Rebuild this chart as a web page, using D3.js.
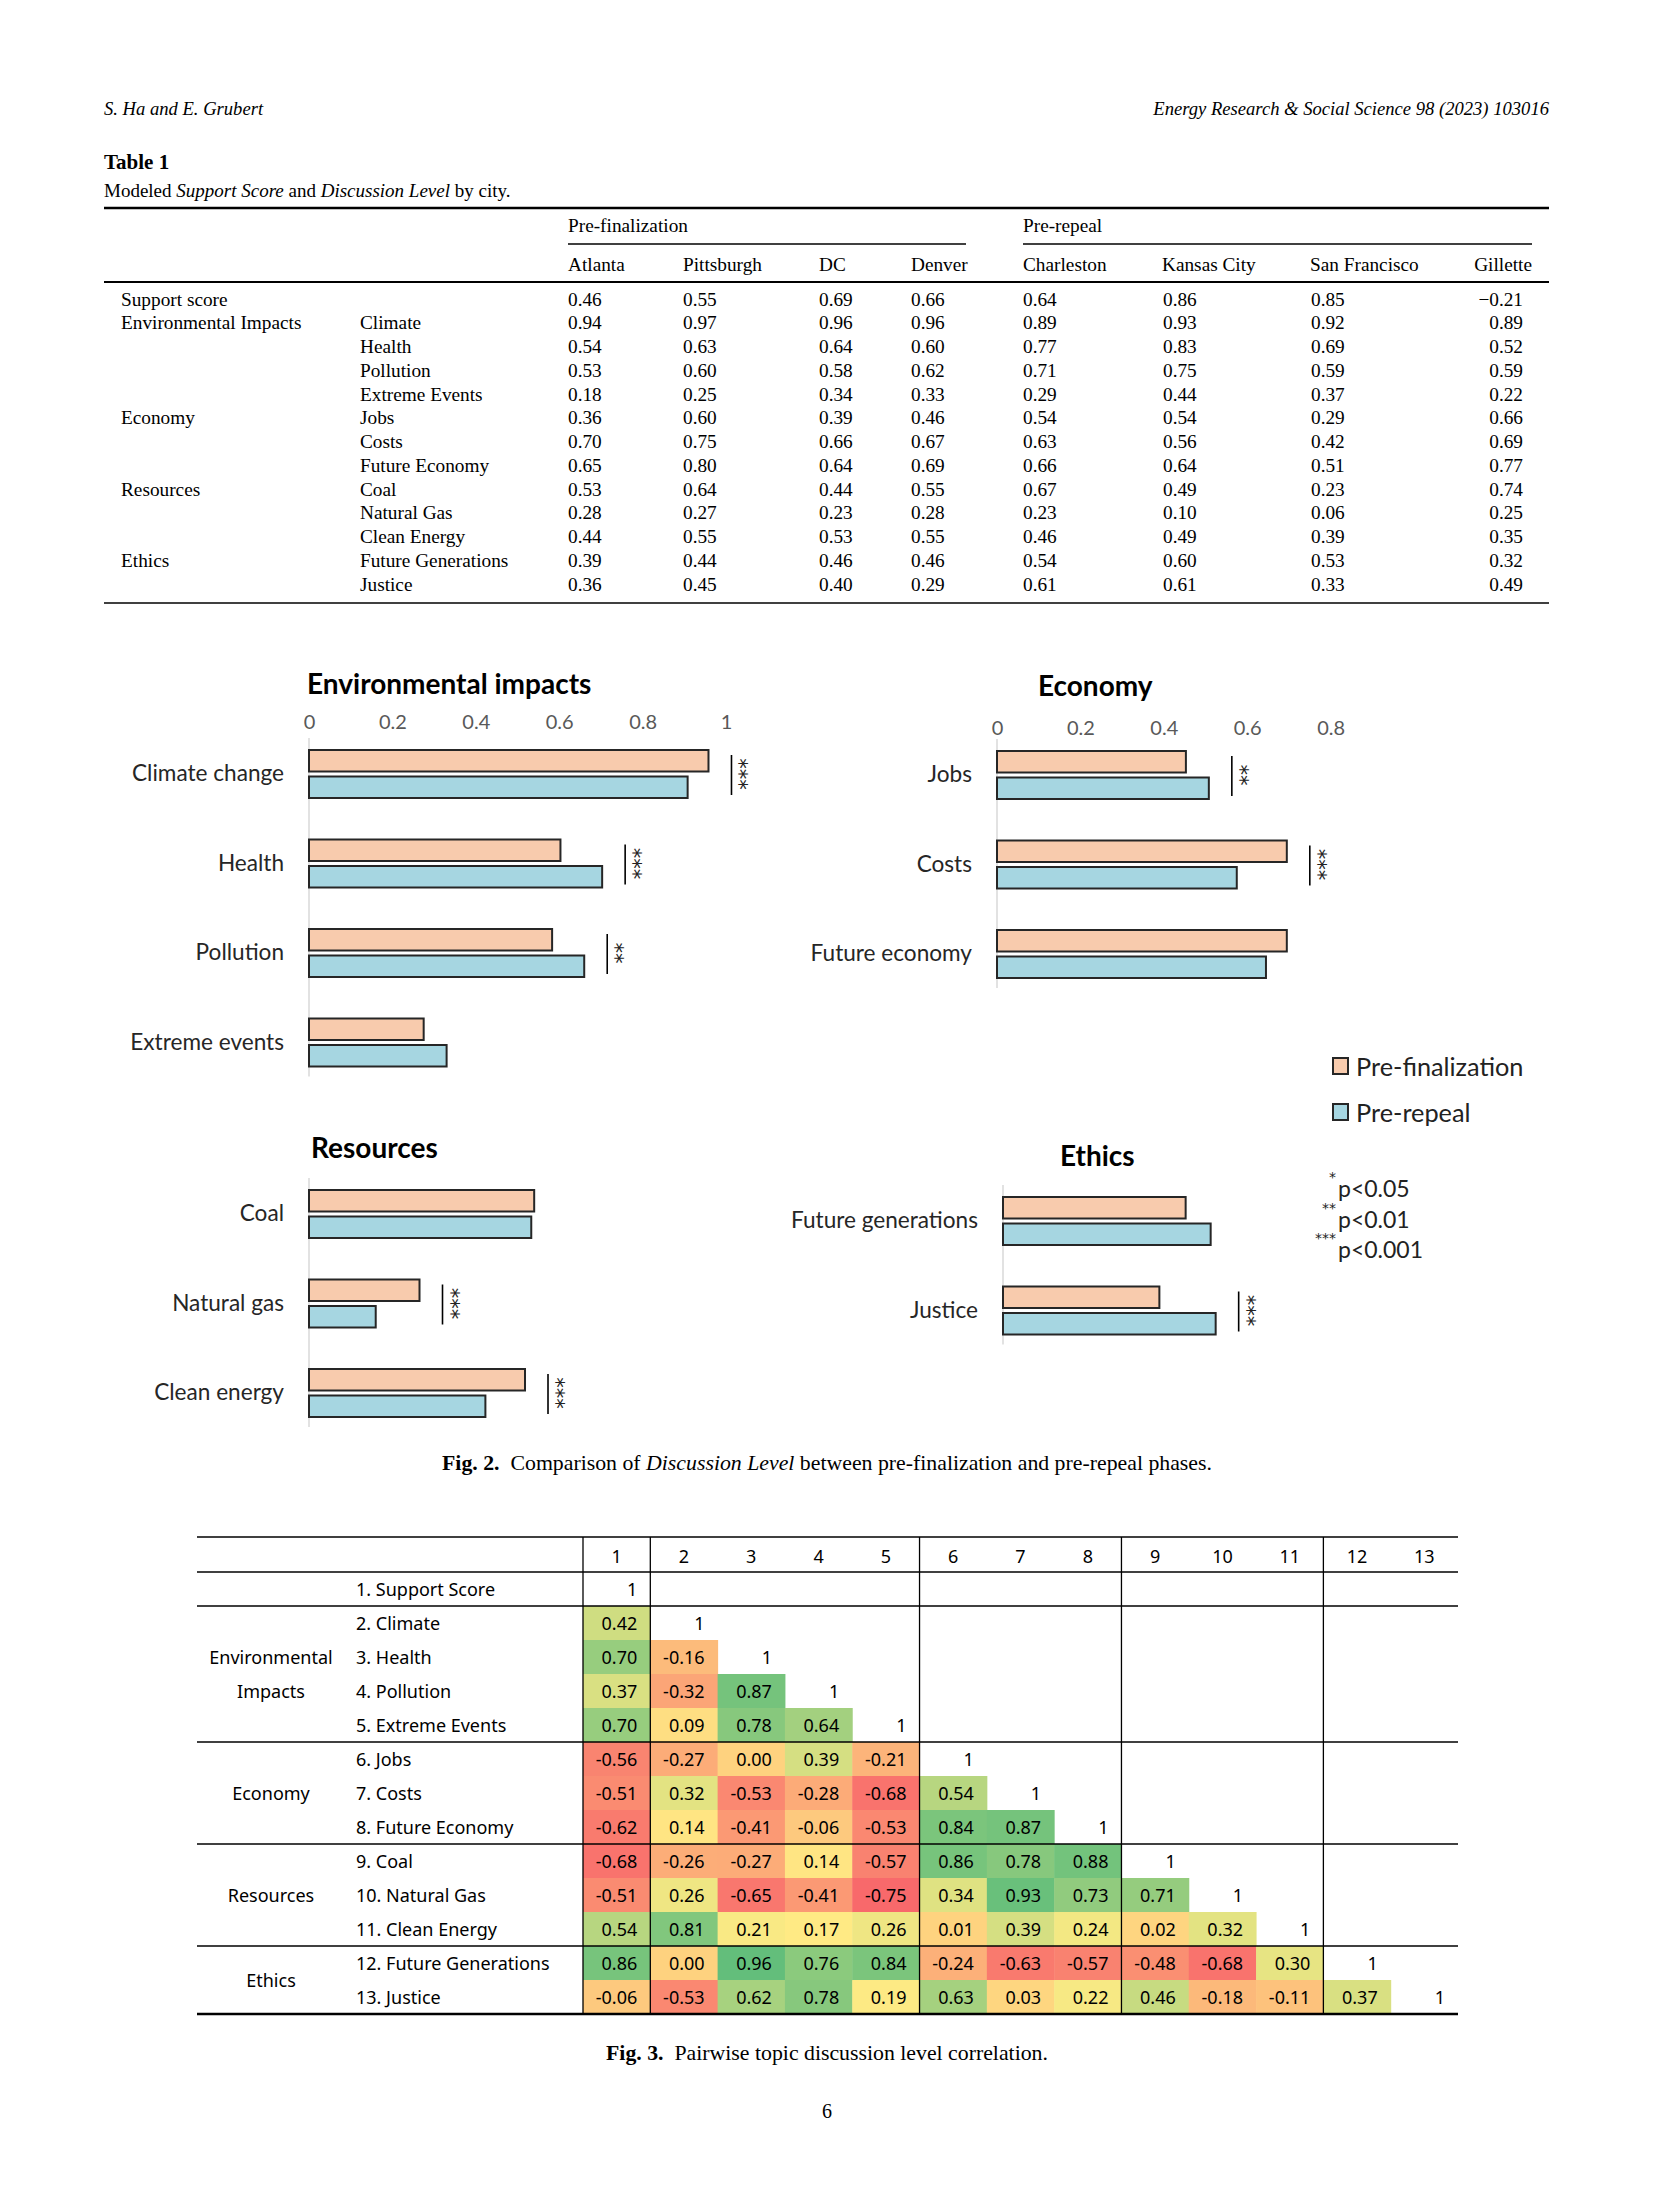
<!DOCTYPE html>
<html>
<head>
<meta charset="utf-8">
<script src="https://cdn.jsdelivr.net/npm/d3@7"></script>
<style>
  body { margin: 0; background: #fff; }
</style>
</head>
<body>
<script>
// ---------- Table 1 data ----------
const preFinCities = ['Atlanta', 'Pittsburgh', 'DC', 'Denver'];
const preRepCities = ['Charleston', 'Kansas City', 'San Francisco', 'Gillette'];
const t1Groups = ['Support score', 'Environmental Impacts', '', '', '', 'Economy', '', '', 'Resources', '', '', 'Ethics', ''];
const t1Topics = ['', 'Climate', 'Health', 'Pollution', 'Extreme Events', 'Jobs', 'Costs', 'Future Economy',
                  'Coal', 'Natural Gas', 'Clean Energy', 'Future Generations', 'Justice'];
const t1Values = [
  [0.46, 0.55, 0.69, 0.66, 0.64, 0.86, 0.85, -0.21],
  [0.94, 0.97, 0.96, 0.96, 0.89, 0.93, 0.92, 0.89],
  [0.54, 0.63, 0.64, 0.60, 0.77, 0.83, 0.69, 0.52],
  [0.53, 0.60, 0.58, 0.62, 0.71, 0.75, 0.59, 0.59],
  [0.18, 0.25, 0.34, 0.33, 0.29, 0.44, 0.37, 0.22],
  [0.36, 0.60, 0.39, 0.46, 0.54, 0.54, 0.29, 0.66],
  [0.70, 0.75, 0.66, 0.67, 0.63, 0.56, 0.42, 0.69],
  [0.65, 0.80, 0.64, 0.69, 0.66, 0.64, 0.51, 0.77],
  [0.53, 0.64, 0.44, 0.55, 0.67, 0.49, 0.23, 0.74],
  [0.28, 0.27, 0.23, 0.28, 0.23, 0.10, 0.06, 0.25],
  [0.44, 0.55, 0.53, 0.55, 0.46, 0.49, 0.39, 0.35],
  [0.39, 0.44, 0.46, 0.46, 0.54, 0.60, 0.53, 0.32],
  [0.36, 0.45, 0.40, 0.29, 0.61, 0.61, 0.33, 0.49]
];

// ---------- Fig. 2 data ----------
const envTopics = ['Climate change', 'Health', 'Pollution', 'Extreme events'];
const envPreFin = [0.958, 0.603, 0.583, 0.275];
const envPreRep = [0.908, 0.703, 0.660, 0.330];
const envSig = ['***', '***', '**', ''];

const ecoTopics = ['Jobs', 'Costs', 'Future economy'];
const ecoPreFin = [0.453, 0.695, 0.695];
const ecoPreRep = [0.508, 0.575, 0.645];
const ecoSig = ['**', '***', ''];

const resTopics = ['Coal', 'Natural gas', 'Clean energy'];
const resPreFin = [0.540, 0.265, 0.518];
const resPreRep = [0.533, 0.160, 0.423];
const resSig = ['', '***', '***'];

const ethTopics = ['Future generations', 'Justice'];
const ethPreFin = [0.438, 0.375];
const ethPreRep = [0.498, 0.510];
const ethSig = ['', '***'];

const envTicks = [0, 0.2, 0.4, 0.6, 0.8, 1];
const ecoTicks = [0, 0.2, 0.4, 0.6, 0.8];
const phases = ['Pre-finalization', 'Pre-repeal'];
const pLegend = [['*', 'p<0.05'], ['**', 'p<0.01'], ['***', 'p<0.001']];

// ---------- Fig. 3 data ----------
const corrLabels = ['1. Support Score', '2. Climate', '3. Health', '4. Pollution', '5. Extreme Events', '6. Jobs',
  '7. Costs', '8. Future Economy', '9. Coal', '10. Natural Gas', '11. Clean Energy', '12. Future Generations', '13. Justice'];
const corrGroupNames = [['Environmental', 'Impacts'], ['Economy'], ['Resources'], ['Ethics']];
const corrGroupFirst = [2, 6, 9, 12];
const corrGroupLast = [5, 8, 11, 13];
const corrRows = [
  [1],
  [0.42, 1],
  [0.70, -0.16, 1],
  [0.37, -0.32, 0.87, 1],
  [0.70, 0.09, 0.78, 0.64, 1],
  [-0.56, -0.27, 0.00, 0.39, -0.21, 1],
  [-0.51, 0.32, -0.53, -0.28, -0.68, 0.54, 1],
  [-0.62, 0.14, -0.41, -0.06, -0.53, 0.84, 0.87, 1],
  [-0.68, -0.26, -0.27, 0.14, -0.57, 0.86, 0.78, 0.88, 1],
  [-0.51, 0.26, -0.65, -0.41, -0.75, 0.34, 0.93, 0.73, 0.71, 1],
  [0.54, 0.81, 0.21, 0.17, 0.26, 0.01, 0.39, 0.24, 0.02, 0.32, 1],
  [0.86, 0.00, 0.96, 0.76, 0.84, -0.24, -0.63, -0.57, -0.48, -0.68, 0.30, 1],
  [-0.06, -0.53, 0.62, 0.78, 0.19, 0.63, 0.03, 0.22, 0.46, -0.18, -0.11, 0.37, 1]
];

// ---------- page ----------
const W = 1654, H = 2205;
const serif = "'Liberation Serif', 'Times New Roman', serif";
const sans = "Lato, 'Open Sans', sans-serif";
const korean = "'Noto Sans', 'Noto Sans CJK KR', sans-serif";
const starFont = "'DejaVu Sans', sans-serif";

const svg = d3.select('body').append('svg')
  .attr('width', W).attr('height', H)
  .style('background', '#fff');

function txt(x, y, s, opt) {
  opt = opt || {};
  return svg.append('text')
    .attr('x', x).attr('y', y)
    .attr('font-family', opt.family || serif)
    .attr('font-size', opt.size || 19)
    .attr('font-weight', opt.weight || 'normal')
    .attr('font-style', opt.style || 'normal')
    .attr('text-anchor', opt.anchor || 'start')
    .attr('dominant-baseline', 'central')
    .attr('fill', opt.fill || '#000')
    .text(s);
}
function hline(x1, x2, y, w) {
  svg.append('line').attr('x1', x1).attr('x2', x2).attr('y1', y).attr('y2', y)
    .attr('stroke', '#000').attr('stroke-width', w);
}

// Running header
txt(104, 108, 'S. Ha and E. Grubert', {style: 'italic', size: 18.6});
txt(1549, 108, 'Energy Research & Social Science 98 (2023) 103016', {style: 'italic', size: 18.6, anchor: 'end'});

// ---------- Table 1 ----------
txt(104, 162, 'Table 1', {weight: 'bold', size: 21});
const cap1 = txt(104, 190, '', {size: 19});
cap1.append('tspan').text('Modeled ');
cap1.append('tspan').attr('font-style', 'italic').text('Support Score');
cap1.append('tspan').text(' and ');
cap1.append('tspan').attr('font-style', 'italic').text('Discussion Level');
cap1.append('tspan').text(' by city.');

const t1Left = 104, t1Right = 1549, t1Size = 19.3;
hline(t1Left, t1Right, 208, 2.6);
txt(568, 225, 'Pre-finalization', {size: t1Size});
txt(1023, 225, 'Pre-repeal', {size: t1Size});
hline(568, 966, 244, 1.3);
hline(1023, 1532, 244, 1.3);

const colX = [568, 683, 819, 911, 1023, 1162, 1310, 1532];
const cities = preFinCities.concat(preRepCities);
cities.forEach((c, i) => {
  txt(colX[i], 264, c, {size: t1Size, anchor: i === 7 ? 'end' : 'start'});
});
hline(t1Left, t1Right, 282, 1.8);

const t1RowY = d3.scaleLinear().domain([0, 12]).range([299, 584]);
const fmt1 = d3.format('.2f');
const valX = [568, 683, 819, 911, 1023, 1163, 1311, 1523];
t1Values.forEach((row, r) => {
  if (t1Groups[r]) txt(121, t1RowY(r), t1Groups[r], {size: t1Size});
  if (t1Topics[r]) txt(360, t1RowY(r), t1Topics[r], {size: t1Size});
  row.forEach((v, c) => {
    txt(valX[c], t1RowY(r), fmt1(v), {size: t1Size, anchor: c === 7 ? 'end' : 'start'});
  });
});
hline(t1Left, t1Right, 603, 1.3);

// ---------- Fig. 2 ----------
const preFill = '#F8CBAD', repFill = '#A6D6E1', barStroke = '#262626';
const unitPx = 417, pitch = 89.5, barH = 21.5, barGap = 5;

function panel(p) {
  const g = svg.append('g');
  const x = d3.scaleLinear().domain([0, 1]).range([p.left, p.left + unitPx]);
  const y = d3.scaleBand().domain(p.topics)
    .range([p.firstCenter - pitch / 2, p.firstCenter - pitch / 2 + pitch * p.topics.length]);
  const cy = t => y(t) + y.bandwidth() / 2;

  g.append('text').attr('x', p.titleX).attr('y', p.titleY)
    .attr('font-family', sans).attr('font-size', 28).attr('font-weight', 'bold')
    .attr('dominant-baseline', 'central').attr('fill', '#000').text(p.title);

  if (p.ticks) {
    const ax = d3.axisTop(x).tickValues(p.ticks).tickSize(0).tickPadding(0).tickFormat(d3.format('~g'));
    const ga = g.append('g').attr('transform', `translate(0,${p.tickY})`).call(ax);
    ga.select('.domain').remove();
    ga.selectAll('text').attr('font-family', sans).attr('font-size', 20).attr('fill', '#595959')
      .attr('dy', '0.35em');
  }

  // vertical axis line
  const t0 = p.topics[0], tn = p.topics[p.topics.length - 1];
  g.append('line').attr('x1', x(0)).attr('x2', x(0))
    .attr('y1', cy(t0) - 36).attr('y2', cy(tn) + 34)
    .attr('stroke', '#d9d9d9').attr('stroke-width', 1.5);

  const rows = p.topics.map((t, i) => ({t: t, a: p.pre[i], b: p.rep[i], s: p.sig[i]}));

  g.selectAll('rect.pf').data(rows).join('rect').attr('class', 'pf')
    .attr('x', x(0)).attr('y', d => cy(d.t) - barGap / 2 - barH)
    .attr('width', d => x(d.a) - x(0)).attr('height', barH)
    .attr('fill', preFill).attr('stroke', barStroke).attr('stroke-width', 2);
  g.selectAll('rect.pr').data(rows).join('rect').attr('class', 'pr')
    .attr('x', x(0)).attr('y', d => cy(d.t) + barGap / 2)
    .attr('width', d => x(d.b) - x(0)).attr('height', barH)
    .attr('fill', repFill).attr('stroke', barStroke).attr('stroke-width', 2);

  // category labels
  const ay = d3.axisLeft(y).tickSize(0).tickPadding(25);
  const gy = g.append('g').attr('transform', `translate(${x(0)},0)`).call(ay);
  gy.select('.domain').remove();
  gy.selectAll('text').attr('font-family', sans).attr('font-size', 22.6).attr('fill', '#262626');

  // significance brackets with vertically stacked stars
  rows.filter(d => d.s).forEach(d => {
    const sx = x(Math.max(d.a, d.b)) + 23;
    g.append('line').attr('x1', sx).attr('x2', sx)
      .attr('y1', cy(d.t) - 19).attr('y2', cy(d.t) + 21)
      .attr('stroke', '#000').attr('stroke-width', 1.6);
    g.append('text')
      .attr('transform', `translate(${sx + 8},${cy(d.t)}) rotate(90)`)
      .attr('font-family', starFont).attr('font-size', 21)
      .attr('text-anchor', 'middle').attr('dominant-baseline', 'central')
      .attr('fill', '#222').text(d.s);
  });
}

panel({title: 'Environmental impacts', titleX: 307, titleY: 683, ticks: envTicks, tickY: 722,
       left: 309, firstCenter: 774, topics: envTopics, pre: envPreFin, rep: envPreRep, sig: envSig});
panel({title: 'Economy', titleX: 1038, titleY: 685, ticks: ecoTicks, tickY: 728,
       left: 997, firstCenter: 775, topics: ecoTopics, pre: ecoPreFin, rep: ecoPreRep, sig: ecoSig});
panel({title: 'Resources', titleX: 311, titleY: 1147, ticks: null,
       left: 309, firstCenter: 1214, topics: resTopics, pre: resPreFin, rep: resPreRep, sig: resSig});
panel({title: 'Ethics', titleX: 1060, titleY: 1155, ticks: null,
       left: 1003, firstCenter: 1221, topics: ethTopics, pre: ethPreFin, rep: ethPreRep, sig: ethSig});

// phase legend
const legY = d3.scalePoint().domain(phases).range([1066, 1112]);
phases.forEach((ph, i) => {
  svg.append('rect').attr('x', 1333).attr('y', legY(ph) - 8).attr('width', 15).attr('height', 16)
    .attr('fill', i === 0 ? preFill : repFill).attr('stroke', barStroke).attr('stroke-width', 2);
  txt(1356, legY(ph), ph, {family: sans, size: 25.3, fill: '#222'});
});

// p-value legend
const pY = d3.scalePoint().domain(pLegend.map(d => d[1])).range([1188, 1249]);
pLegend.forEach(d => {
  svg.append('text').attr('x', 1336).attr('y', pY(d[1]) - 6)
    .attr('font-family', starFont).attr('font-size', 14).attr('text-anchor', 'end').attr('fill', '#222').text(d[0]);
  txt(1338, pY(d[1]), d[1], {family: sans, size: 23, fill: '#222'});
});

// Fig. 2 caption
const cap2 = txt(827, 1463, '', {anchor: 'middle', size: 21.8});
cap2.append('tspan').attr('font-weight', 'bold').text('Fig. 2.');
cap2.append('tspan').text('\u2002Comparison of ');
cap2.append('tspan').attr('font-style', 'italic').text('Discussion Level');
cap2.append('tspan').text(' between pre-finalization and pre-repeal phases.');

// ---------- Fig. 3 ----------
const f3Left = 197, f3Top = 1537, f3HeadBottom = 1572;
const colBand = d3.scaleBand().domain(d3.range(1, 14)).range([583, 1458]);
const rowBand = d3.scaleBand().domain(d3.range(1, 14)).range([f3HeadBottom, 2014]);
const f3Right = colBand.range()[1];
const cells = [];
corrRows.forEach((row, r) => row.forEach((v, c) => cells.push({r: r + 1, c: c + 1, v: v})));
const offDiag = cells.filter(d => d.r !== d.c).map(d => d.v);
const color = d3.scaleLinear()
  .domain([d3.min(offDiag), d3.median(offDiag), d3.max(offDiag)])
  .range(['#F8696B', '#FFEB84', '#63BE7B'])
  .interpolate(d3.interpolateRgb);
const fmt3 = d3.formatLocale({decimal: '.', thousands: ',', grouping: [3], currency: ['', ''], minus: '-'}).format('.2f');

svg.append('g').selectAll('rect').data(cells.filter(d => d.r !== d.c)).join('rect')
  .attr('x', d => colBand(d.c)).attr('y', d => rowBand(d.r))
  .attr('width', colBand.bandwidth() + 0.5).attr('height', rowBand.bandwidth() + 0.5)
  .attr('fill', d => color(d.v));

svg.append('g').selectAll('text').data(cells).join('text')
  .attr('x', d => colBand(d.c) + colBand.bandwidth() - 13)
  .attr('y', d => rowBand(d.r) + rowBand.bandwidth() / 2)
  .attr('text-anchor', 'end').attr('dominant-baseline', 'central')
  .attr('font-family', korean).attr('font-size', 18).attr('fill', '#000')
  .text(d => d.r === d.c ? '1' : fmt3(d.v));

// column headers
d3.range(1, 14).forEach(c => {
  txt(colBand(c) + colBand.bandwidth() / 2, (f3Top + f3HeadBottom) / 2 + 1, String(c),
      {family: korean, size: 18, anchor: 'middle'});
});
// row labels
corrLabels.forEach((l, i) => {
  txt(356, rowBand(i + 1) + rowBand.bandwidth() / 2, l, {family: korean, size: 18});
});
// group labels
corrGroupNames.forEach((names, gi) => {
  const yTop = rowBand(corrGroupFirst[gi]);
  const yBot = rowBand(corrGroupLast[gi]) + rowBand.bandwidth();
  const mid = (yTop + yBot) / 2;
  names.forEach((nm, k) => {
    txt(271, mid + (k - (names.length - 1) / 2) * rowBand.bandwidth(), nm,
        {family: korean, size: 18, anchor: 'middle'});
  });
});

// rules
hline(f3Left, f3Right, f3Top, 1.5);
hline(f3Left, f3Right, f3HeadBottom, 1.5);
hline(f3Left, f3Right, rowBand(1) + rowBand.bandwidth(), 1.5);
corrGroupLast.slice(0, 3).forEach(r => hline(f3Left, f3Right, rowBand(r) + rowBand.bandwidth(), 1.5));
hline(f3Left, f3Right, rowBand(13) + rowBand.bandwidth(), 2.6);
[1].concat(corrGroupFirst).forEach(c => {
  svg.append('line').attr('x1', colBand(c)).attr('x2', colBand(c))
    .attr('y1', f3Top).attr('y2', rowBand(13) + rowBand.bandwidth())
    .attr('stroke', '#000').attr('stroke-width', 1.3);
});

// Fig. 3 caption
const cap3 = txt(827, 2053, '', {anchor: 'middle', size: 21.8});
cap3.append('tspan').attr('font-weight', 'bold').text('Fig. 3.');
cap3.append('tspan').text('\u2002Pairwise topic discussion level correlation.');

// page number
txt(827, 2111, '6', {size: 20, anchor: 'middle'});
</script>
</body>
</html>
